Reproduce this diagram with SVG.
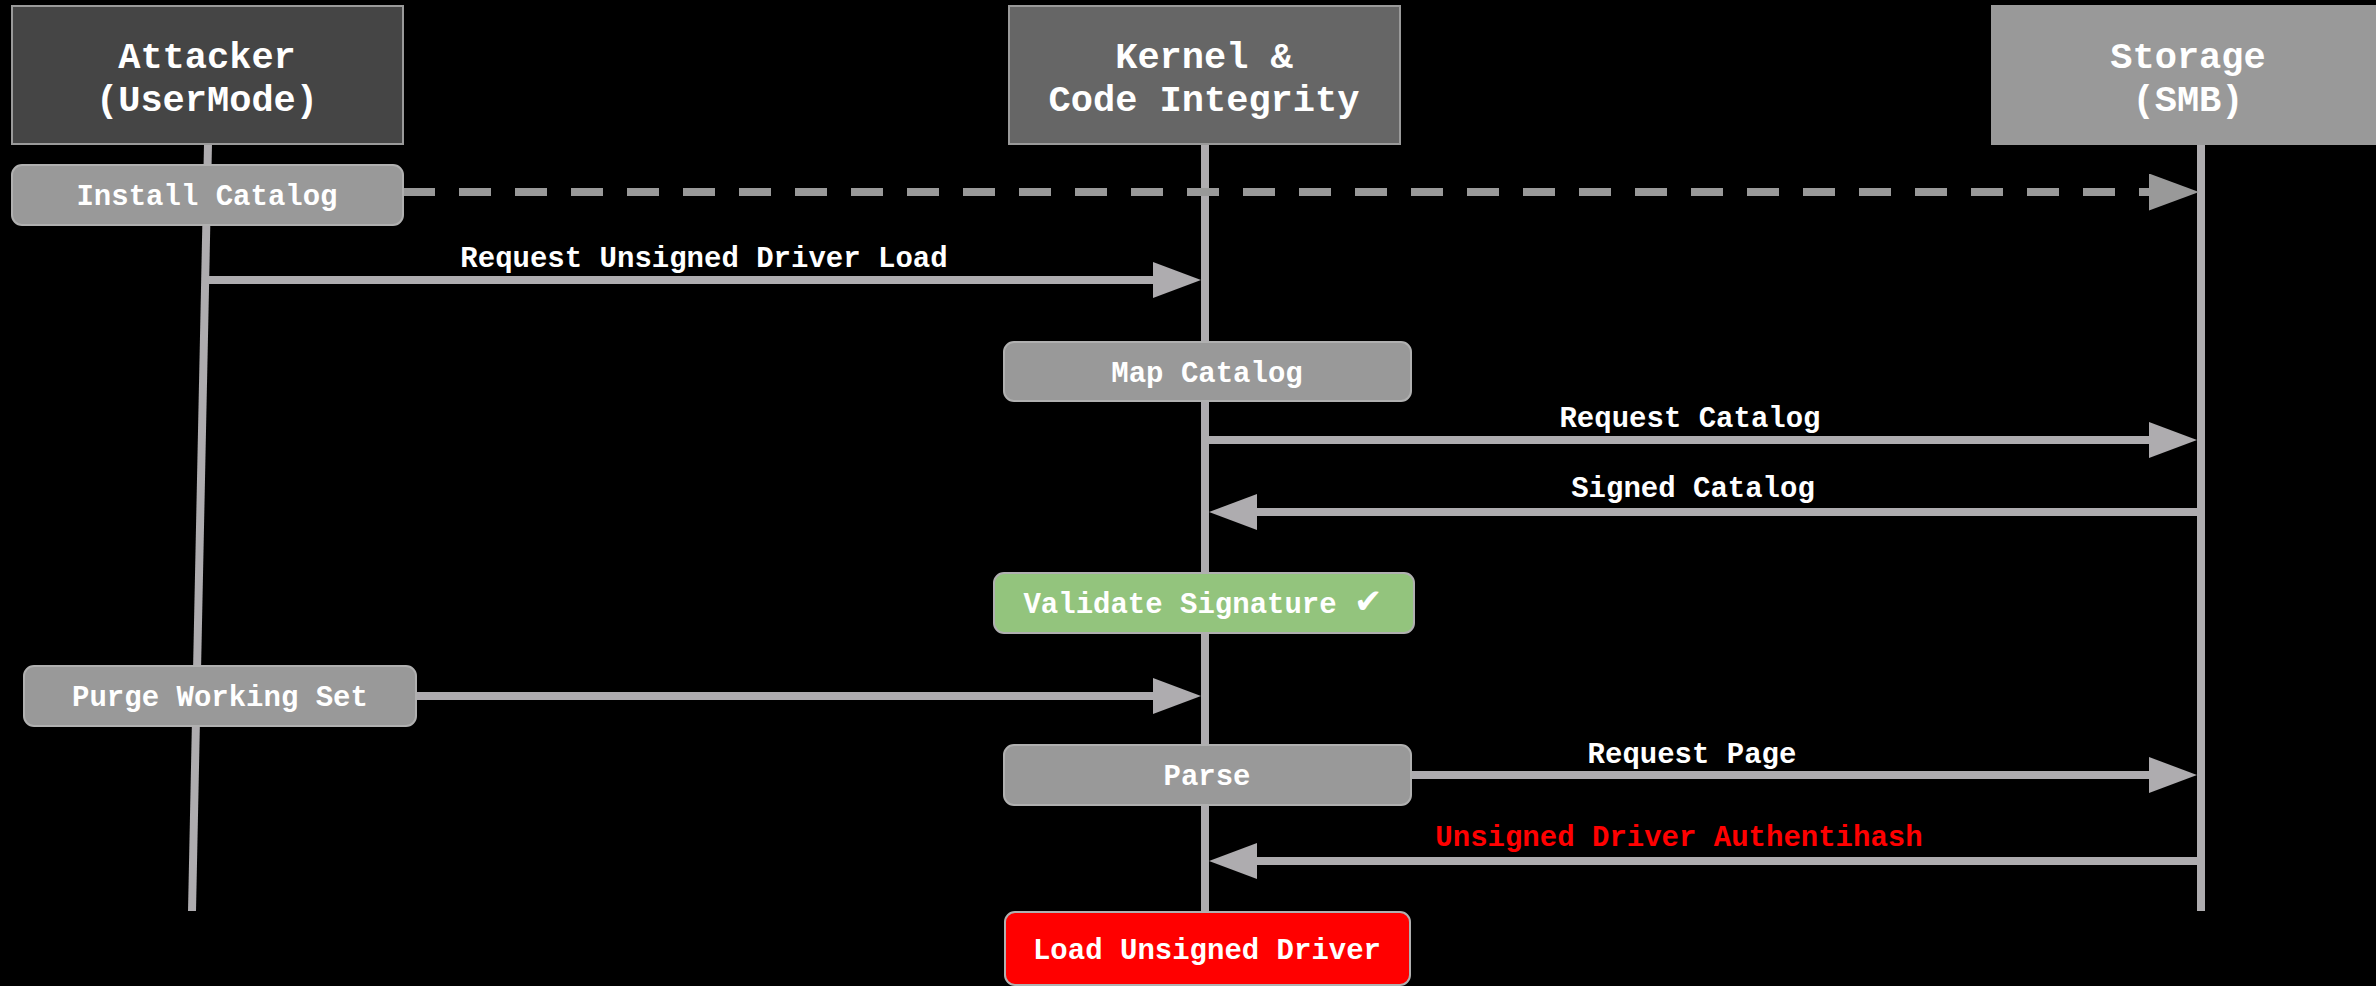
<svg xmlns="http://www.w3.org/2000/svg" width="2376" height="986" viewBox="0 0 2376 986">
<style>
  .hdr { stroke: #9a9a9a; stroke-width: 2; }
  .htxt { font-family: "Liberation Mono", "Courier New", monospace; font-weight: bold; font-size: 37px; fill: #ffffff; text-anchor: middle; }
  .box { stroke: #b0b0b0; stroke-width: 2; }
  .btxt { font-family: "Liberation Mono", "Courier New", "DejaVu Sans Mono", monospace; font-weight: bold; font-size: 29px; fill: #ffffff; text-anchor: middle; }
  .ltxt { font-family: "Liberation Mono", "Courier New", monospace; font-weight: bold; font-size: 29px; fill: #ffffff; text-anchor: middle; }
  .check { font-family: "DejaVu Sans", sans-serif; font-size: 34px; }
  .life { stroke: #aeacaf; stroke-width: 8; fill: none; }
  .msg { stroke: #aeacaf; stroke-width: 8; fill: none; marker-end: url(#arr); }
  .dash { stroke: #999999; stroke-width: 8; fill: none; stroke-dasharray: 32 24; marker-end: url(#arrd); }
</style>
<defs>
  <marker id="arr" markerUnits="userSpaceOnUse" markerWidth="48" markerHeight="36" refX="0" refY="18" orient="auto" viewBox="0 0 48 36">
    <path d="M0,0 L48,18 L0,36 Z" fill="#aeacaf"/>
  </marker>
  <marker id="arrd" markerUnits="userSpaceOnUse" markerWidth="50" markerHeight="37" refX="0" refY="18.5" orient="auto" viewBox="0 0 50 37">
    <path d="M0,0 L50,18.5 L0,37 Z" fill="#999999"/>
  </marker>
</defs>
<rect x="0" y="0" width="2376" height="986" fill="#000000"/>

<g id="lifelines">
  <line class="life" x1="208" y1="144" x2="192" y2="911"/>
  <line class="life" x1="1205" y1="144" x2="1205" y2="911"/>
  <line class="life" x1="2201" y1="144" x2="2201" y2="911"/>
</g>

<g id="connectors">
  <line class="dash" x1="403" y1="192" x2="2149" y2="192"/>
  <line class="msg" x1="205" y1="280" x2="1153" y2="280"/>
  <line class="msg" x1="1205" y1="440" x2="2149" y2="440"/>
  <line class="msg" x1="2201" y1="512" x2="1257" y2="512"/>
  <line class="msg" x1="416" y1="696" x2="1153" y2="696"/>
  <line class="msg" x1="1411" y1="775" x2="2149" y2="775"/>
  <line class="msg" x1="2201" y1="861" x2="1257" y2="861"/>
  <text class="ltxt" x="704" y="267">Request Unsigned Driver Load</text>
  <text class="ltxt" x="1690" y="427">Request Catalog</text>
  <text class="ltxt" x="1693" y="497">Signed Catalog</text>
  <text class="ltxt" x="1692" y="763">Request Page</text>
  <text class="ltxt" x="1679" y="846" style="fill:#ff0000">Unsigned Driver Authentihash</text>
</g>

<g id="attacker">
  <rect class="hdr" x="12" y="6" width="391" height="138" fill="#454545"/>
  <text class="htxt" x="207" y="68">Attacker</text>
  <text class="htxt" x="207" y="111">(UserMode)</text>
</g>
<g id="kernel">
  <rect class="hdr" x="1009" y="6" width="391" height="138" fill="#666666"/>
  <text class="htxt" x="1204" y="68">Kernel &amp;</text>
  <text class="htxt" x="1204" y="111">Code Integrity</text>
</g>
<g id="storage">
  <rect class="hdr" x="1992" y="6" width="392" height="138" fill="#999999" stroke="#aaaaaa"/>
  <text class="htxt" x="2188" y="68">Storage</text>
  <text class="htxt" x="2188" y="111">(SMB)</text>
</g>

<g id="install-catalog">
  <rect class="box" x="12" y="165" width="391" height="60" rx="10" fill="#999999"/>
  <text class="btxt" x="207" y="205">Install Catalog</text>
</g>
<g id="map-catalog">
  <rect class="box" x="1004" y="342" width="407" height="59" rx="10" fill="#999999"/>
  <text class="btxt" x="1207" y="382">Map Catalog</text>
</g>
<g id="validate-signature">
  <rect class="box" x="994" y="573" width="420" height="60" rx="10" fill="#93c47d"/>
  <text class="btxt" x="1203" y="613">Validate Signature <tspan class="check">✔</tspan></text>
</g>
<g id="purge-working-set">
  <rect class="box" x="24" y="666" width="392" height="60" rx="10" fill="#999999"/>
  <text class="btxt" x="220" y="706">Purge Working Set</text>
</g>
<g id="parse">
  <rect class="box" x="1004" y="745" width="407" height="60" rx="10" fill="#999999"/>
  <text class="btxt" x="1207" y="785">Parse</text>
</g>
<g id="load-unsigned-driver">
  <rect class="box" x="1005" y="912" width="405" height="73" rx="10" fill="#ff0000"/>
  <text class="btxt" x="1207" y="959">Load Unsigned Driver</text>
</g>
</svg>
